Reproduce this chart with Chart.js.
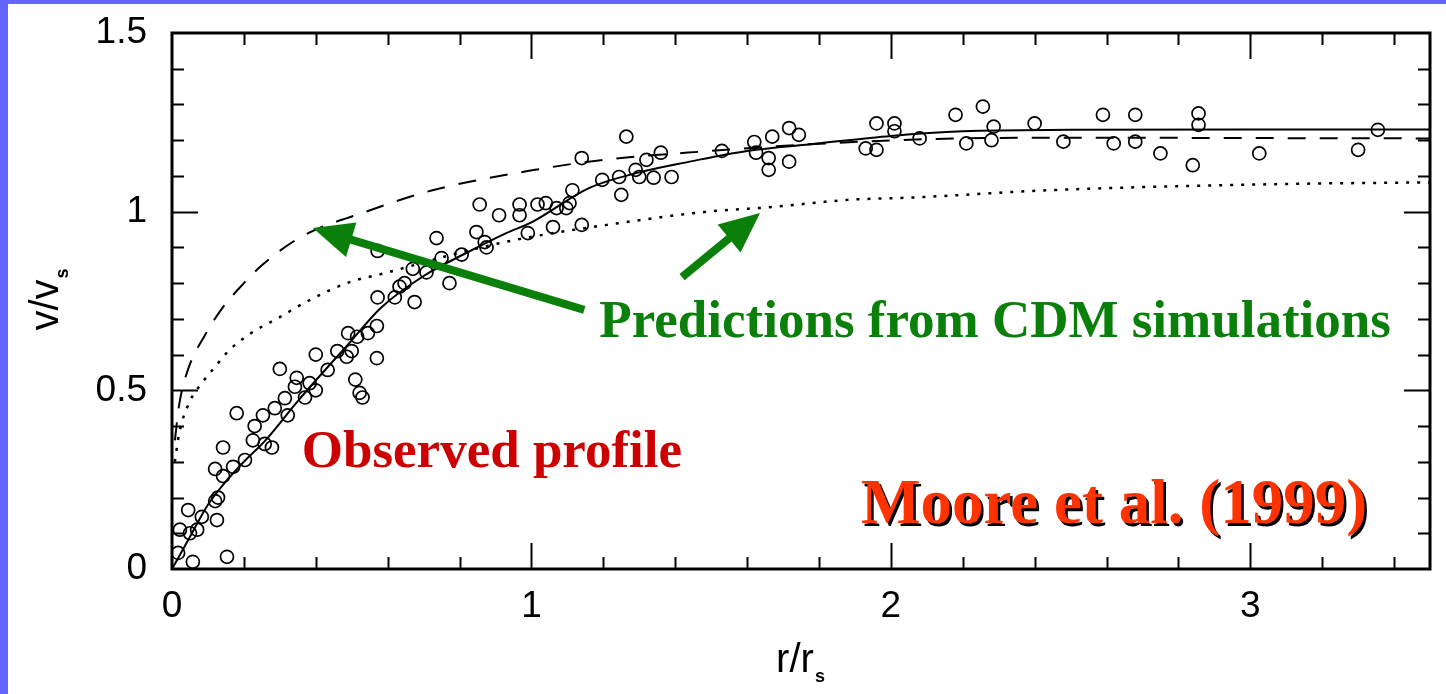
<!DOCTYPE html>
<html>
<head>
<meta charset="utf-8">
<script src="https://cdn.jsdelivr.net/npm/chart.js@4.4.0/dist/chart.umd.min.js"></script>
<style>
  html, body { margin: 0; padding: 0; background: #fff; }
</style>
</head>
<body>
<canvas id="myChart" width="1446" height="694"></canvas>
<script>
// observed rotation curve points (r/r_s , v/v_s)
const obsR = [0.017,0.058,0.153,0.022,0.05,0.07,0.045,0.083,0.125,0.12,0.128,0.12,0.142,0.17,0.142,0.203,0.18,0.225,0.258,0.278,
  0.23,0.253,0.286,0.322,0.314,0.30,0.342,0.37,0.347,0.383,0.40,0.40,0.433,0.46,0.486,0.50,0.49,0.515,0.545,0.57,
  0.51,0.522,0.53,0.57,0.572,0.62,0.633,0.647,0.675,0.67,0.708,0.772,0.75,0.736,0.806,0.572,0.847,0.87,0.875,0.856,
  0.91,0.967,0.967,0.99,1.017,1.04,1.06,1.07,1.097,1.106,1.114,1.14,1.14,1.197,1.244,1.25,1.264,1.29,1.30,1.32,
  1.34,1.36,1.39,1.53,1.62,1.625,1.66,1.66,1.67,1.717,1.717,1.744,1.93,1.96,1.96,2.01,2.01,2.08,2.18,2.21,
  2.256,2.28,2.286,2.40,2.48,2.59,2.62,2.68,2.68,2.75,2.84,2.856,2.856,3.025,3.30,3.355];
const obsV = [0.045,0.02,0.034,0.11,0.10,0.11,0.165,0.146,0.137,0.19,0.20,0.28,0.26,0.286,0.34,0.305,0.436,0.36,0.35,0.34,
  0.40,0.43,0.45,0.43,0.478,0.56,0.51,0.48,0.535,0.52,0.50,0.60,0.557,0.61,0.594,0.61,0.66,0.65,0.66,0.68,
  0.53,0.493,0.48,0.59,0.76,0.76,0.79,0.80,0.747,0.84,0.83,0.80,0.87,0.926,0.88,0.89,0.943,0.915,0.90,1.02,
  0.99,1.02,0.99,0.94,1.02,1.024,0.957,1.01,1.01,1.024,1.06,0.963,1.15,1.089,1.097,1.047,1.21,1.117,1.097,1.145,
  1.095,1.165,1.097,1.17,1.195,1.165,1.15,1.117,1.21,1.234,1.14,1.215,1.177,1.173,1.247,1.247,1.225,1.205,1.271,1.191,
  1.294,1.20,1.238,1.247,1.196,1.271,1.191,1.271,1.196,1.163,1.13,1.275,1.243,1.163,1.173,1.229];

// fit to the observed profile (solid)
const fitR = [0,0.05,0.1,0.15,0.2,0.26,0.35,0.5,0.58,0.7,0.82,0.93,1.0,1.16,1.3,1.44,1.6,1.79,2.0,2.2,2.5,3.0,3.5];
const fitV = [0,0.09,0.18,0.245,0.3,0.36,0.47,0.64,0.73,0.82,0.885,0.94,0.97,1.066,1.11,1.14,1.17,1.19,1.212,1.225,1.229,1.23,1.23];

// CDM prediction, dashed
const cdmR = [0.008,0.02,0.044,0.092,0.14,0.2,0.25,0.36,0.54,0.725,1.01,1.2,1.5,1.8,2.2,2.6,3.0,3.5];
const cdmV = [0.36,0.46,0.557,0.655,0.73,0.80,0.85,0.93,1.0,1.06,1.117,1.145,1.17,1.19,1.205,1.207,1.206,1.205];

// CDM prediction, dotted
const dotR = [0.008,0.02,0.05,0.083,0.12,0.16,0.22,0.3,0.378,0.486,0.6,0.8,0.95,1.21,1.49,1.67,1.88,2.07,2.44,3.07,3.5];
const dotV = [0.3,0.38,0.47,0.52,0.566,0.613,0.66,0.705,0.75,0.80,0.83,0.885,0.92,0.963,1.0,1.013,1.033,1.04,1.06,1.077,1.082];

const xTicks = [0, 1, 2, 3];
const yTicks = [0, 0.5, 1, 1.5];

const toPts = (xs, ys) => xs.map((x, i) => ({ x: x, y: ys[i] }));

const GREEN = '#0a7f0a';

function arrow(c, x1, y1, x2, y2) {
  const a = Math.atan2(y2 - y1, x2 - x1);
  const hl = 40, hw = 18;
  const bx = x2 - hl * Math.cos(a), by = y2 - hl * Math.sin(a);
  c.strokeStyle = GREEN; c.fillStyle = GREEN; c.lineWidth = 8;
  c.beginPath(); c.moveTo(x1, y1); c.lineTo(bx + 2 * Math.cos(a), by + 2 * Math.sin(a)); c.stroke();
  c.beginPath();
  c.moveTo(x2, y2);
  c.lineTo(bx + hw * Math.sin(a), by - hw * Math.cos(a));
  c.lineTo(bx - hw * Math.sin(a), by + hw * Math.cos(a));
  c.closePath(); c.fill();
}

const decor = {
  id: 'decor',
  beforeDraw(chart) {
    const c = chart.ctx;
    c.save();
    c.fillStyle = '#fff';
    c.fillRect(0, 0, chart.width, chart.height);
    c.fillStyle = '#6464ff';
    c.fillRect(0, 0, 8, chart.height);
    c.fillRect(0, 0, chart.width, 4);
    c.restore();
  },
  afterDatasetsDraw(chart) {
    const c = chart.ctx, xs = chart.scales.x, ys = chart.scales.y, ca = chart.chartArea;
    c.save();
    // frame + inward ticks
    c.strokeStyle = '#000';
    c.lineWidth = 2;
    for (let i = 1; i < 18; i++) {
      const v = i * 0.2, px = Math.round(xs.getPixelForValue(v)) + 0.5;
      const len = (i % 5 === 0) ? 26 : 12;
      c.beginPath(); c.moveTo(px, ca.bottom); c.lineTo(px, ca.bottom - len);
      c.moveTo(px, ca.top); c.lineTo(px, ca.top + len); c.stroke();
    }
    for (let i = 1; i < 15; i++) {
      const py = Math.round(ys.getPixelForValue(i * 0.1)) + 0.5;
      const len = (i % 5 === 0) ? 26 : 12;
      c.beginPath(); c.moveTo(ca.left, py); c.lineTo(ca.left + len, py);
      c.moveTo(ca.right, py); c.lineTo(ca.right - len, py); c.stroke();
    }
    c.lineWidth = 3;
    c.strokeRect(ca.left, ca.top, ca.right - ca.left, ca.bottom - ca.top);

    // axis titles
    c.fillStyle = '#000';
    c.textBaseline = 'alphabetic';
    c.font = '40px "Liberation Sans"';
    const xt = 'r/r';
    const w = c.measureText(xt).width;
    const x0 = 800 - (w + 10) / 2;
    c.fillText(xt, x0, 672);
    c.font = 'bold 18px "Liberation Sans"';
    c.fillText('s', x0 + w + 1, 682);

    c.save();
    c.translate(58, 300);
    c.rotate(-Math.PI / 2);
    c.font = '40px "Liberation Sans"';
    const yt = 'v/v';
    const wy = c.measureText(yt).width;
    c.fillText(yt, -(wy + 10) / 2, 0);
    c.font = 'bold 18px "Liberation Sans"';
    c.fillText('s', -(wy + 10) / 2 + wy + 1, 10);
    c.restore();

    // annotations
    arrow(c, xs.getPixelForValue(1.147), ys.getPixelForValue(0.725), xs.getPixelForValue(0.392), ys.getPixelForValue(0.954));
    arrow(c, xs.getPixelForValue(1.419), ys.getPixelForValue(0.817), xs.getPixelForValue(1.636), ys.getPixelForValue(0.996));

    c.font = 'bold 53px "Liberation Serif"';
    c.fillStyle = GREEN;
    c.fillText('Predictions from CDM simulations', xs.getPixelForValue(1.189), ys.getPixelForValue(0.649));
    c.fillStyle = '#cc0000';
    c.fillText('Observed profile', xs.getPixelForValue(0.361), ys.getPixelForValue(0.2855));

    c.font = 'bold 63px "Liberation Serif"';
    const mx = xs.getPixelForValue(1.917), my = ys.getPixelForValue(0.1287);
    c.fillStyle = '#000';
    c.fillText('Moore et al. (1999)', mx + 2.5, my + 2.5);
    c.fillStyle = '#ff3300';
    c.fillText('Moore et al. (1999)', mx, my);
    c.restore();
  }
};

const tickFont = { family: '"Liberation Sans"', size: 37 };

new Chart(document.getElementById('myChart'), {
  type: 'scatter',
  data: {
    datasets: [
      {
        type: 'line', label: 'fit', data: toPts(fitR, fitV),
        borderColor: '#000', borderWidth: 2, pointRadius: 0, fill: false,
        cubicInterpolationMode: 'monotone'
      },
      {
        type: 'line', label: 'CDM dashed', data: toPts(cdmR, cdmV),
        borderColor: '#000', borderWidth: 2, borderDash: [18, 14], pointRadius: 0, fill: false,
        cubicInterpolationMode: 'monotone'
      },
      {
        type: 'line', label: 'CDM dotted', data: toPts(dotR, dotV),
        borderColor: '#000', borderWidth: 2.5, borderDash: [3, 8], pointRadius: 0, fill: false,
        cubicInterpolationMode: 'monotone'
      },
      {
        label: 'observed', data: toPts(obsR, obsV),
        showLine: false, pointRadius: 6.5, pointBorderWidth: 1.7,
        pointBorderColor: '#000', pointBackgroundColor: 'rgba(0,0,0,0)'
      }
    ]
  },
  options: {
    responsive: false,
    animation: false,
    layout: { padding: { top: 33, right: 16, left: 0, bottom: 0 } },
    plugins: { legend: { display: false }, tooltip: { enabled: false } },
    scales: {
      x: {
        type: 'linear', min: 0, max: 3.5,
        grid: { display: false, drawTicks: false },
        border: { display: false },
        afterBuildTicks: s => { s.ticks = xTicks.map(v => ({ value: v })); },
        ticks: { color: '#000', font: tickFont, padding: 16, maxRotation: 0, callback: v => String(v) },
        afterFit: s => { s.height = 125; s.paddingLeft = 0; s.paddingRight = 0; }
      },
      y: {
        type: 'linear', min: 0, max: 1.5,
        grid: { display: false, drawTicks: false },
        border: { display: false },
        afterBuildTicks: s => { s.ticks = yTicks.map(v => ({ value: v })); },
        ticks: { color: '#000', font: tickFont, padding: 25, callback: v => String(v) },
        afterFit: s => { s.width = 172; s.paddingTop = 0; s.paddingBottom = 0; }
      }
    }
  },
  plugins: [decor]
});
</script>
</body>
</html>
